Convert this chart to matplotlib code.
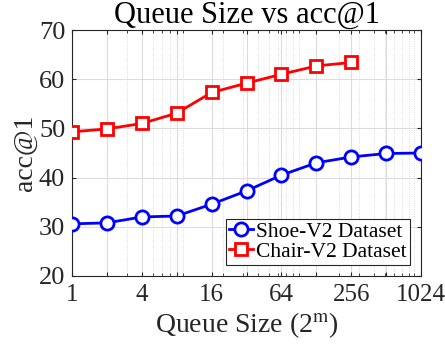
import matplotlib.pyplot as plt
import matplotlib.ticker as mticker

plt.rcParams['font.family'] = ['Liberation Serif', 'DejaVu Serif']
plt.rcParams['mathtext.fontset'] = 'stix'

# data
queue_shoe = [1, 2, 4, 8, 16, 32, 64, 128, 256, 512, 1024]
acc_shoe = [30.6, 30.8, 32.0, 32.2, 34.6, 37.3, 40.5, 43.0, 44.2, 44.9, 45.0]
queue_chair = [1, 2, 4, 8, 16, 32, 64, 128, 256]
acc_chair = [49.3, 49.9, 51.0, 53.1, 57.3, 59.2, 61.0, 62.7, 63.4]
xtick_vals = [1, 4, 16, 64, 256, 1024]

fig = plt.figure(figsize=(4.45, 3.45), dpi=100)
ax = fig.add_axes([0.162, 0.2, 0.784, 0.713])

ax.plot(queue_shoe, acc_shoe, '-o', color='blue', lw=2, ms=9.5, mew=2,
        mfc='white', label='Shoe-V2 Dataset', zorder=3)
ax.plot(queue_chair, acc_chair, '-s', color='red', lw=2, ms=8.5, mew=2,
        mfc='white', label='Chair-V2 Dataset', zorder=3)

ax.set_xscale('log', base=2)
ax.set_xlim(1, 1024)
ax.set_ylim(20, 70)

# major grid at every power of 2, dotted minor grid at decade subdivisions
ax.xaxis.set_major_locator(mticker.FixedLocator([2 ** i for i in range(11)]))
ax.xaxis.set_major_formatter(mticker.FuncFormatter(
    lambda v, p: f'{int(round(v))}' if int(round(v)) in xtick_vals else ''))
ax.xaxis.set_minor_locator(mticker.LogLocator(base=10, subs=range(2, 10)))
ax.xaxis.set_minor_formatter(mticker.NullFormatter())
ax.set_yticks([20, 30, 40, 50, 60, 70])

ax.grid(True, which='major', color='#dcdcdc', lw=0.8)
ax.grid(True, which='minor', axis='x', color='#d0d0d0', lw=0.6, ls=':')
ax.set_axisbelow(True)

ax.tick_params(which='both', direction='in', top=True, right=True,
               labelsize=19, colors='#262626', length=3)
ax.tick_params(axis='x', labelsize=18)
ax.tick_params(which='minor', length=2)
ax.tick_params(axis='x', pad=6)
ax.tick_params(axis='y', pad=5)
for s in ax.spines.values():
    s.set_color('#262626')
    s.set_linewidth(0.8)

ax.set_title('Queue Size vs acc@1', fontsize=22, pad=2)
ax.set_xlabel('Queue Size (2$^{\\mathrm{m}}$)', fontsize=20, color='#262626',
              labelpad=3)
ax.set_ylabel('acc@1', fontsize=20, color='#262626', labelpad=1)

leg = ax.legend(loc='lower right', fontsize=15.5, handlelength=1.1,
                handletextpad=0.15, borderpad=0.15, labelspacing=0.0,
                fancybox=False, framealpha=1, borderaxespad=0.5)
leg.get_frame().set_edgecolor('#262626')
leg.get_frame().set_linewidth(0.8)

fig.savefig('out.png', dpi=100)
